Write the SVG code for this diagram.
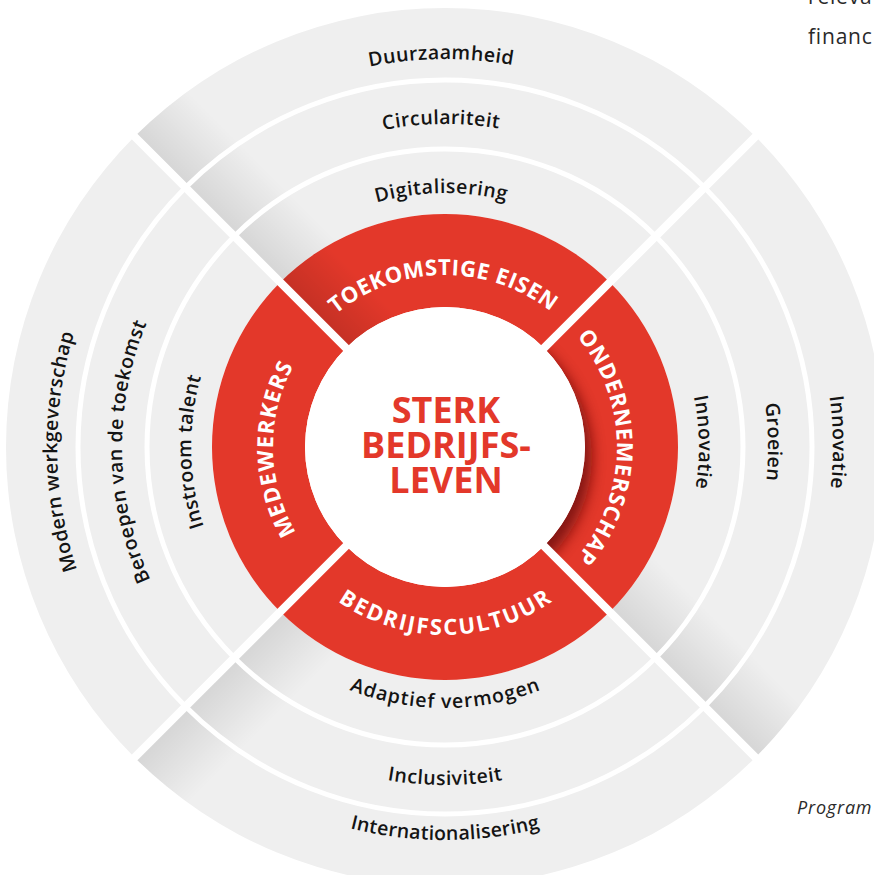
<svg xmlns="http://www.w3.org/2000/svg" width="874" height="875" viewBox="0 0 874 875">
<defs>
<style>
.gray{fill:#efefef}
.red{fill:#e3382a}
.lbl{font-family:'Open Sans','Noto Sans','DejaVu Sans',sans-serif;font-size:19.5px;font-weight:600;fill:#141414}
.rlbl{font-family:'Open Sans','Noto Sans','DejaVu Sans',sans-serif;font-size:22px;font-weight:700;fill:#ffffff}
.ctr{font-family:'Open Sans','Noto Sans','DejaVu Sans',sans-serif;font-size:36px;font-weight:700;fill:#e3382a}
.page{font-family:'Open Sans','Noto Sans','DejaVu Sans',sans-serif;fill:#2a2a2a}
.sep{fill:none;stroke:#ffffff;stroke-width:5}
.gap{stroke:#ffffff;stroke-width:8}
</style>
<linearGradient id="shadeA" gradientUnits="userSpaceOnUse" x1="445" y1="447" x2="494.5" y2="397.5">
<stop offset="0" stop-color="#000" stop-opacity="0.11"/>
<stop offset="1" stop-color="#000" stop-opacity="0"/>
</linearGradient>
<linearGradient id="shadeB" gradientUnits="userSpaceOnUse" x1="445" y1="447" x2="494.5" y2="496.5">
<stop offset="0" stop-color="#000" stop-opacity="0.11"/>
<stop offset="1" stop-color="#000" stop-opacity="0"/>
</linearGradient>
<linearGradient id="shadeR" gradientUnits="userSpaceOnUse" x1="445" y1="447" x2="487" y2="405">
<stop offset="0" stop-color="#000" stop-opacity="0.14"/>
<stop offset="1" stop-color="#000" stop-opacity="0"/>
</linearGradient>
<filter id="blur" x="-30%" y="-30%" width="160%" height="160%">
<feGaussianBlur stdDeviation="7"/>
</filter>
<clipPath id="clipRedRight">
<path d="M609.76,282.24 A233,233 0 0 1 609.76,611.76 L543.99,545.99 A140,140 0 0 0 543.99,348.01 Z"/>
</clipPath>
<path id="pT388" d="M57,447 A388,388 0 0 1 833,447"/>
<path id="pT323" d="M122,447 A323,323 0 0 1 768,447"/>
<path id="pT254" d="M191,447 A254,254 0 0 1 699,447"/>
<path id="pB393" d="M52,447 A393,393 0 0 0 838,447"/>
<path id="pB338" d="M107,447 A338,338 0 0 0 783,447"/>
<path id="pB261" d="M184,447 A261,261 0 0 0 706,447"/>
<path id="pL388" d="M445,835 A388,388 0 0 1 445,59"/>
<path id="pL323" d="M445,770 A323,323 0 0 1 445,124"/>
<path id="pL254" d="M445,701 A254,254 0 0 1 445,193"/>
<path id="pR388" d="M445,59 A388,388 0 0 1 445,835"/>
<path id="pR323" d="M445,124 A323,323 0 0 1 445,770"/>
<path id="pR254" d="M445,193 A254,254 0 0 1 445,701"/>
<path id="rT" d="M273,447 A172,172 0 0 1 617,447"/>
<path id="rL" d="M445,619 A172,172 0 0 1 445,275"/>
<path id="rR" d="M445,275 A172,172 0 0 1 445,619"/>
<path id="rB" d="M257,447 A188,188 0 0 0 633,447"/>
</defs>

<g id="quadrant-top">
<path class="gray" d="M134.58,136.58 A439,439 0 0 1 755.42,136.58 L609.76,282.24 A233,233 0 0 0 280.24,282.24 Z"/>
<path fill="url(#shadeA)" d="M134.58,136.58 A439,439 0 0 1 755.42,136.58 L609.76,282.24 A233,233 0 0 0 280.24,282.24 Z"/>
<g id="toekomstige-eisen">
<path class="red" d="M280.24,282.24 A233,233 0 0 1 609.76,282.24 L543.99,348.01 A140,140 0 0 0 346.01,348.01 Z"/>
<path fill="url(#shadeR)" d="M280.24,282.24 A233,233 0 0 1 609.76,282.24 L543.99,348.01 A140,140 0 0 0 346.01,348.01 Z"/>
<text class="rlbl"><textPath href="#rT" startOffset="49.6%" text-anchor="middle" textLength="232" lengthAdjust="spacing">TOEKOMSTIGE EISEN</textPath></text>
</g>
<text class="lbl"><textPath href="#pT388" startOffset="49.67%" text-anchor="middle" textLength="144" lengthAdjust="spacing">Duurzaamheid</textPath></text>
<text class="lbl"><textPath href="#pT323" startOffset="49.6%" text-anchor="middle" textLength="116" lengthAdjust="spacing">Circulariteit</textPath></text>
<text class="lbl"><textPath href="#pT254" startOffset="49.5%" text-anchor="middle" textLength="131" lengthAdjust="spacing">Digitalisering</textPath></text>
</g>

<g id="quadrant-right">
<path class="gray" d="M755.42,136.58 A439,439 0 0 1 755.42,757.42 L609.76,611.76 A233,233 0 0 0 609.76,282.24 Z"/>
<path fill="url(#shadeA)" d="M755.42,136.58 A439,439 0 0 1 755.42,757.42 L609.76,611.76 A233,233 0 0 0 609.76,282.24 Z"/>
<g id="ondernemerschap">
<path class="red" d="M609.76,282.24 A233,233 0 0 1 609.76,611.76 L543.99,545.99 A140,140 0 0 0 543.99,348.01 Z"/>
<circle cx="452" cy="457" r="140" fill="#6a0d08" opacity="0.8" filter="url(#blur)" clip-path="url(#clipRedRight)"/>
<text class="rlbl"><textPath href="#rR" startOffset="50%" text-anchor="middle" textLength="240" lengthAdjust="spacing">ONDERNEMERSCHAP</textPath></text>
</g>
<text class="lbl"><textPath href="#pR254" startOffset="49.4%" text-anchor="middle" textLength="92" lengthAdjust="spacing">Innovatie</textPath></text>
<text class="lbl"><textPath href="#pR323" startOffset="49.5%" text-anchor="middle" textLength="77" lengthAdjust="spacing">Groeien</textPath></text>
<text class="lbl"><textPath href="#pR388" startOffset="49.6%" text-anchor="middle" textLength="92" lengthAdjust="spacing">Innovatie</textPath></text>
</g>

<g id="quadrant-bottom">
<path class="gray" d="M755.42,757.42 A439,439 0 0 1 134.58,757.42 L280.24,611.76 A233,233 0 0 0 609.76,611.76 Z"/>
<path fill="url(#shadeB)" d="M755.42,757.42 A439,439 0 0 1 134.58,757.42 L280.24,611.76 A233,233 0 0 0 609.76,611.76 Z"/>
<g id="bedrijfscultuur">
<path class="red" d="M609.76,611.76 A233,233 0 0 1 280.24,611.76 L346.01,545.99 A140,140 0 0 0 543.99,545.99 Z"/>
<text class="rlbl"><textPath href="#rB" startOffset="50%" text-anchor="middle" textLength="228" lengthAdjust="spacing">BEDRIJFSCULTUUR</textPath></text>
</g>
<text class="lbl"><textPath href="#pB261" startOffset="50%" text-anchor="middle" textLength="196" lengthAdjust="spacing">Adaptief vermogen</textPath></text>
<text class="lbl"><textPath href="#pB338" startOffset="50%" text-anchor="middle" textLength="116" lengthAdjust="spacing">Inclusiviteit</textPath></text>
<text class="lbl"><textPath href="#pB393" startOffset="50%" text-anchor="middle" textLength="192" lengthAdjust="spacing">Internationalisering</textPath></text>
</g>

<g id="quadrant-left">
<path class="gray" d="M134.58,757.42 A439,439 0 0 1 134.58,136.58 L280.24,282.24 A233,233 0 0 0 280.24,611.76 Z"/>
<g id="medewerkers">
<path class="red" d="M280.24,611.76 A233,233 0 0 1 280.24,282.24 L346.01,348.01 A140,140 0 0 0 346.01,545.99 Z"/>
<text class="rlbl"><textPath href="#rL" startOffset="49.5%" text-anchor="middle" textLength="174" lengthAdjust="spacing">MEDEWERKERS</textPath></text>
</g>
<text class="lbl"><textPath href="#pL388" startOffset="49.6%" text-anchor="middle" textLength="240" lengthAdjust="spacing">Modern werkgeverschap</textPath></text>
<text class="lbl"><textPath href="#pL323" startOffset="49.5%" text-anchor="middle" textLength="264" lengthAdjust="spacing">Beroepen van de toekomst</textPath></text>
<text class="lbl"><textPath href="#pL254" startOffset="49.4%" text-anchor="middle" textLength="152" lengthAdjust="spacing">Instroom talent</textPath></text>
</g>

<g id="connectors">
<circle class="sep" cx="445" cy="447" r="298"/>
<circle class="sep" cx="445" cy="447" r="367"/>
<line class="gap" x1="128" y1="130" x2="762" y2="764"/>
<line class="gap" x1="128" y1="764" x2="762" y2="130"/>
</g>

<g id="center">
<circle cx="445" cy="447" r="140" fill="#ffffff"/>
<text class="ctr" x="446" y="423" text-anchor="middle">STERK</text>
<text class="ctr" x="446" y="458" text-anchor="middle">BEDRIJFS-</text>
<text class="ctr" x="446" y="493" text-anchor="middle">LEVEN</text>
</g>

<g id="page-text">
<text class="page" x="808" y="4" font-size="21" letter-spacing="0.8">releva</text>
<text class="page" x="808" y="44" font-size="21" letter-spacing="0.8">financ</text>
<text class="page" x="797" y="814" font-size="18" font-style="italic" letter-spacing="0.8">Program</text>
</g>
</svg>
